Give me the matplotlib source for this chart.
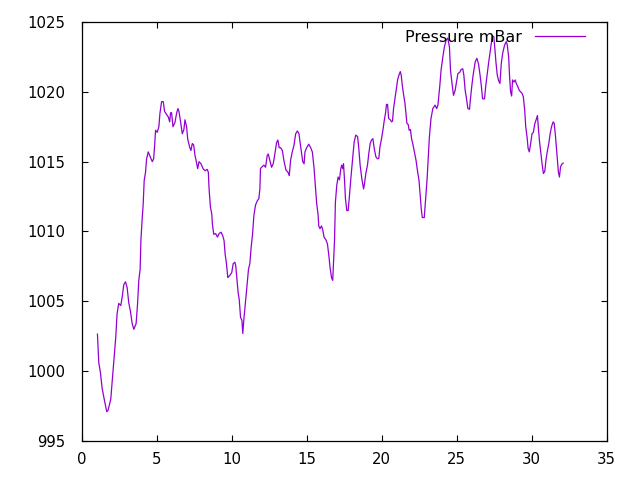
import matplotlib
matplotlib.use("Agg")
import matplotlib.pyplot as plt

days = [1.03, 1.12, 1.23, 1.34, 1.50, 1.65, 1.74, 1.92, 2.05, 2.16, 2.25, 2.34, 2.45, 2.59, 2.68,
        2.79, 2.90, 3.01, 3.12, 3.23, 3.35, 3.46, 3.61, 3.70, 3.79, 3.88, 3.93, 4.02, 4.08, 4.15,
        4.24, 4.31, 4.42, 4.57, 4.69, 4.78, 4.84, 4.91, 5.02, 5.13, 5.20, 5.31, 5.42, 5.51, 5.60,
        5.76, 5.85, 5.91, 5.98, 6.07, 6.20, 6.31, 6.40, 6.47, 6.58, 6.69, 6.80, 6.87, 6.98, 7.05,
        7.18, 7.27, 7.36, 7.45, 7.54, 7.63, 7.72, 7.81, 7.94, 8.08, 8.21, 8.35, 8.43, 8.48, 8.57,
        8.66, 8.70, 8.79, 8.92, 9.04, 9.15, 9.28, 9.39, 9.48, 9.55, 9.64, 9.73, 9.86, 9.99, 10.09,
        10.20, 10.26, 10.33, 10.42, 10.49, 10.58, 10.67, 10.73, 10.80, 10.89, 11.00, 11.11, 11.20,
        11.29, 11.38, 11.47, 11.58, 11.70, 11.80, 11.87, 11.91, 12.03, 12.14, 12.25, 12.36, 12.43,
        12.56, 12.65, 12.76, 12.87, 12.98, 13.07, 13.16, 13.25, 13.37, 13.47, 13.61, 13.74, 13.83,
        13.92, 14.03, 14.14, 14.26, 14.37, 14.48, 14.55, 14.64, 14.73, 14.82, 14.88, 14.99, 15.13,
        15.26, 15.37, 15.48, 15.57, 15.66, 15.75, 15.80, 15.88, 15.98, 16.06, 16.15, 16.28, 16.38,
        16.47, 16.55, 16.65, 16.73, 16.78, 16.85, 16.91, 17.00, 17.09, 17.18, 17.27, 17.33, 17.40,
        17.45, 17.52, 17.58, 17.67, 17.76, 17.85, 17.94, 18.05, 18.16, 18.27, 18.39, 18.47, 18.56,
        18.67, 18.79, 18.85, 18.94, 19.05, 19.14, 19.23, 19.32, 19.41, 19.50, 19.61, 19.72, 19.81,
        19.88, 19.99, 20.10, 20.17, 20.25, 20.32, 20.39, 20.46, 20.57, 20.66, 20.72, 20.79, 20.88,
        20.97, 21.06, 21.15, 21.24, 21.30, 21.37, 21.46, 21.55, 21.62, 21.68, 21.77, 21.83, 21.92,
        21.99, 22.07, 22.18, 22.29, 22.40, 22.49, 22.58, 22.64, 22.71, 22.84, 22.94, 23.03, 23.11,
        23.18, 23.29, 23.41, 23.56, 23.67, 23.75, 23.87, 23.96, 24.08, 24.18, 24.30, 24.41, 24.52,
        24.59, 24.68, 24.79, 24.90, 24.99, 25.08, 25.21, 25.30, 25.41, 25.48, 25.57, 25.66, 25.75,
        25.86, 25.92, 26.02, 26.10, 26.24, 26.35, 26.46, 26.55, 26.64, 26.73, 26.86, 26.95, 27.04,
        27.13, 27.22, 27.31, 27.38, 27.48, 27.55, 27.62, 27.71, 27.80, 27.89, 27.98, 28.07, 28.20,
        28.31, 28.38, 28.47, 28.54, 28.60, 28.67, 28.73, 28.82, 28.91, 28.98, 29.09, 29.18, 29.27,
        29.36, 29.45, 29.54, 29.61, 29.70, 29.77, 29.85, 29.94, 30.03, 30.12, 30.21, 30.32, 30.39,
        30.45, 30.52, 30.61, 30.70, 30.79, 30.88, 30.97, 31.06, 31.15, 31.24, 31.33, 31.44, 31.51,
        31.59, 31.66, 31.73, 31.79, 31.86, 31.93, 32.00, 32.11]

pressure = [1002.65, 1000.6, 999.9, 998.8, 997.9, 997.1, 997.2, 998.0, 999.7, 1001.1, 1002.4, 1004.1,
            1004.85, 1004.7, 1005.3, 1006.2, 1006.4, 1006.0, 1004.9, 1004.3, 1003.4, 1003.0, 1003.4,
            1004.7, 1006.5, 1007.3, 1009.35, 1011.0, 1011.9, 1013.65, 1014.25, 1015.2, 1015.7, 1015.3,
            1015.0, 1015.2, 1016.05, 1017.25, 1017.1, 1017.5, 1018.45, 1019.3, 1019.3, 1018.6, 1018.45,
            1018.2, 1017.85, 1018.5, 1018.5, 1017.5, 1017.8, 1018.45, 1018.8, 1018.6, 1017.85, 1017.0,
            1017.3, 1018.0, 1017.5, 1016.65, 1016.05, 1015.8, 1016.3, 1016.2, 1015.45, 1015.0, 1014.5,
            1015.0, 1014.85, 1014.5, 1014.35, 1014.45, 1014.25, 1013.05, 1011.75, 1011.25, 1010.55,
            1009.8, 1009.85, 1009.6, 1009.85, 1009.95, 1009.7, 1009.35, 1008.4, 1007.7, 1006.7, 1006.85,
            1007.05, 1007.7, 1007.8, 1007.55, 1006.7, 1005.6, 1005.15, 1003.85, 1003.65, 1002.7, 1003.7,
            1004.7, 1006.0, 1007.3, 1007.7, 1008.9, 1009.8, 1011.15, 1011.9, 1012.2, 1012.35, 1013.05,
            1014.5, 1014.65, 1014.75, 1014.6, 1015.45, 1015.55, 1015.0, 1014.6, 1014.85, 1015.55,
            1016.35, 1016.55, 1016.0, 1016.0, 1015.8, 1015.1, 1014.4, 1014.25, 1014.0, 1015.1, 1015.7,
            1016.15, 1017.0, 1017.2, 1017.0, 1016.4, 1015.7, 1015.0, 1014.85, 1015.7, 1016.0, 1016.25,
            1016.0, 1015.7, 1014.6, 1013.3, 1012.0, 1011.25, 1010.4, 1010.2, 1010.4, 1010.15, 1009.6,
            1009.4, 1009.1, 1008.3, 1007.45, 1006.7, 1006.5, 1007.7, 1009.35, 1012.1, 1013.3, 1013.9,
            1013.7, 1014.5, 1014.75, 1014.5, 1014.85, 1013.65, 1012.35, 1011.5, 1011.5, 1012.6, 1013.8,
            1015.1, 1016.4, 1016.9, 1016.8, 1015.95, 1014.75, 1013.8, 1013.05, 1013.4, 1014.15, 1014.75,
            1015.6, 1016.3, 1016.55, 1016.65, 1015.95, 1015.35, 1015.2, 1015.25, 1016.05, 1016.65,
            1017.4, 1017.95, 1018.45, 1019.1, 1019.1, 1018.1, 1018.0, 1017.85, 1017.9, 1018.8, 1019.5,
            1020.25, 1020.85, 1021.2, 1021.45, 1021.2, 1020.5, 1019.8, 1019.2, 1018.45, 1017.75,
            1017.65, 1017.25, 1017.3, 1016.65, 1016.3, 1015.7, 1015.1, 1014.25, 1013.65, 1012.45,
            1011.6, 1011.0, 1011.0, 1012.5, 1013.8, 1015.3, 1016.75, 1018.1, 1018.8, 1019.05, 1018.8,
            1019.05, 1020.35, 1021.55, 1022.5, 1023.2, 1023.7, 1023.85, 1023.2, 1021.55, 1020.7,
            1019.75, 1020.1, 1020.7, 1021.3, 1021.4, 1021.6, 1021.65, 1021.2, 1020.1, 1019.5, 1018.8,
            1018.75, 1019.5, 1020.5, 1021.2, 1022.15, 1022.4, 1022.0, 1021.3, 1020.5, 1019.5, 1019.5,
            1020.5, 1021.3, 1022.05, 1022.75, 1023.45, 1024.0, 1023.95, 1023.1, 1022.15, 1021.2,
            1020.8, 1020.6, 1022.05, 1022.75, 1023.35, 1023.6, 1023.35, 1022.5, 1020.95, 1020.0,
            1019.7, 1020.85, 1020.7, 1020.85, 1020.6, 1020.35, 1020.1, 1020.0, 1019.9, 1019.65,
            1018.7, 1017.5, 1016.75, 1015.95, 1015.7, 1016.3, 1017.0, 1017.1, 1017.7, 1018.05, 1018.3,
            1017.5, 1016.55, 1015.7, 1014.85, 1014.15, 1014.3, 1015.2, 1015.8, 1016.3, 1017.0, 1017.5,
            1017.85, 1017.75, 1016.9, 1015.95, 1015.1, 1014.25, 1013.9, 1014.6, 1014.8, 1014.9]

x_ticks = [0, 5, 10, 15, 20, 25, 30, 35]
y_ticks = [995, 1000, 1005, 1010, 1015, 1020, 1025]
series_label = "Pressure mBar"

plt.rcParams['font.family'] = ['DejaVu Sans']
fig = plt.figure(figsize=(6.4, 4.8), dpi=100)
ax = fig.add_axes([82 / 640, 1 - 441 / 480, (606.5 - 82) / 640, (441 - 22) / 480])

ax.plot(days, pressure, color='#9400D3', linewidth=0.9, label=series_label)

ax.set_xlim(0, 35)
ax.set_ylim(995, 1025)
ax.set_xticks(x_ticks)
ax.set_yticks(y_ticks)
ax.tick_params(direction='in', length=4, width=0.8, top=True, right=True, labelsize=10.7, colors='black')
ax.tick_params(axis='x', pad=8)
ax.tick_params(axis='y', pad=12)
for s in ax.spines.values():
    s.set_linewidth(0.9)

ax.legend(loc='upper right', bbox_to_anchor=(0.959, 0.982), frameon=False, markerfirst=False,
          fontsize=11.5, handlelength=3.1, handletextpad=0.85, borderpad=0, borderaxespad=0)

fig.savefig('out.png', dpi=100)
